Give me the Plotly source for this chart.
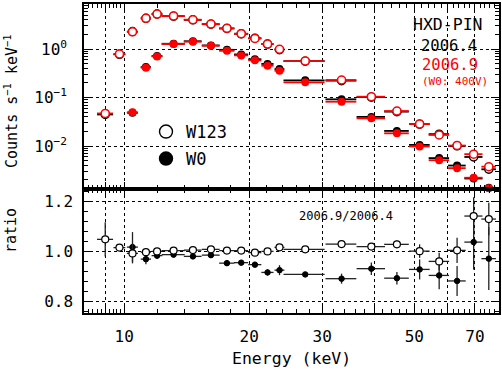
import plotly.graph_objects as go

# ---------------- data ----------------
energy = [9.0, 9.74, 10.47, 11.28, 12.0, 13.15, 14.64, 16.18, 17.68, 19.14, 20.65, 22.15,
          23.67, 27.3, 33.4, 39.4, 45.4, 51.5, 57.4, 63.4, 69.5, 75.6]
energy_err = [0.4, 0.32, 0.32, 0.32, 0.36, 0.84, 0.72, 0.8, 0.75, 0.75, 0.75, 0.75,
              0.65, 3.1, 2.85, 3.1, 3.1, 2.95, 3.25, 3.1, 3.5, 3.05]

# count rates (counts s^-1 keV^-1)
w123_2006_4 = [0.0448, 0.778, 2.29, 4.31, 5.26, 4.77, 4.00, 3.25, 2.66, 2.06, 1.67, 1.27,
               0.973, 0.561, 0.223, 0.102, 0.0512, 0.0283, 0.0176, 0.0101, 0.00595, 0.00332]
w0_2006_4 = [None, None, 0.0486, 0.425, 0.717, 1.285, 1.448, 1.187, 0.964, 0.774, 0.617, 0.494,
             0.386, 0.227, 0.092, 0.0399, 0.0205, 0.01055, 0.00564, 0.00396, 0.00214, 0.00138]
w123_2006_9 = [0.047, 0.79, 2.27, 4.3, 5.27, 4.79, 4.02, 3.28, 2.67, 2.07, 1.66, 1.27,
               0.99, 0.566, 0.23, 0.104, 0.0527, 0.0284, 0.0169, 0.0102, 0.0068, 0.00375]
w0_2006_9 = [None, None, 0.0495, 0.412, 0.706, 1.27, 1.42, 1.17, 0.92, 0.74, 0.585, 0.453,
             0.357, 0.206, 0.082, 0.0372, 0.0183, 0.0098, 0.0051, 0.0035, 0.00222, 0.00134]

# ratio 2006.9 / 2006.4
ratio_w123 = [1.049, 1.016, 0.993, 0.998, 1.001, 1.004, 1.006, 1.009, 1.004, 1.004, 0.996, 1.001,
              1.017, 1.009, 1.030, 1.020, 1.029, 1.002, 0.961, 1.005, 1.142, 1.130]
ratio_w123_err = [0.068, 0.012, 0.04, 0.01, 0.008, 0.008, 0.008, 0.008, 0.008, 0.008, 0.008, 0.008,
                  0.01, 0.008, 0.01, 0.012, 0.015, 0.027, 0.035, 0.05, 0.075, 0.065]
ratio_w0 = [None, None, 1.018, 0.970, 0.984, 0.988, 0.981, 0.986, 0.954, 0.956, 0.948, 0.917,
            0.926, 0.909, 0.892, 0.932, 0.894, 0.929, 0.905, 0.883, 1.038, 0.972]
ratio_w0_err = [None, None, 0.06, 0.02, 0.012, 0.01, 0.01, 0.01, 0.01, 0.01, 0.01, 0.012,
                0.02, 0.01, 0.02, 0.025, 0.025, 0.04, 0.055, 0.06, 0.11, 0.125]

x_grid_ticks = [9, 10, 20, 30, 40, 50, 60, 70]
x_tick_text = ["", "10", "20", "30", "", "50", "", "70"]
x_minor_ticks = [8.2, 8.4, 8.6, 8.8, 9.2, 9.4, 9.6, 9.8] + \
    [v for v in range(12, 80, 2) if v % 10 != 0]
y_top_ticks = [0.01, 0.1, 1]
y_top_text = ["10<sup>−2</sup>", "10<sup>−1</sup>", "10<sup>0</sup>"]
y_top_minor = [m * 10 ** e for e in (-3, -2, -1, 0) for m in range(2, 10)]
y_bot_ticks = [0.8, 1.0, 1.2]
y_bot_text = ["0.8", "1.0", "1.2"]
y_bot_minor = [0.76, 0.84, 0.88, 0.92, 0.96, 1.04, 1.08, 1.12, 1.16, 1.24]

RED = "#ff0000"
BLACK = "#000000"
MONO = "DejaVu Sans Mono"

fig = go.Figure()


def spec_trace(y, color, filled, size):
    return go.Scatter(
        x=energy, y=y, mode="markers", showlegend=False,
        error_x=dict(type="data", array=energy_err, color=color, thickness=1.8, width=0),
        marker=dict(symbol="circle", size=size,
                    color=color if filled else "white",
                    line=dict(color=color, width=1.5)),
        xaxis="x", yaxis="y", cliponaxis=False,
    )


fig.add_trace(spec_trace(w123_2006_4, BLACK, False, 8))
fig.add_trace(spec_trace(w0_2006_4, BLACK, True, 6.5))
fig.add_trace(spec_trace(w123_2006_9, RED, False, 8))
fig.add_trace(spec_trace(w0_2006_9, RED, True, 6.5))

fig.add_trace(go.Scatter(
    x=energy, y=ratio_w0, mode="markers", showlegend=False,
    error_x=dict(type="data", array=energy_err, color="#222", thickness=1.3, width=0),
    error_y=dict(type="data", array=ratio_w0_err, color="#222", thickness=1.3, width=0),
    marker=dict(symbol="circle", size=5.5, color=BLACK, line=dict(color=BLACK, width=1)),
    xaxis="x2", yaxis="y2"))
fig.add_trace(go.Scatter(
    x=energy, y=ratio_w123, mode="markers", showlegend=False,
    error_x=dict(type="data", array=energy_err, color="#222", thickness=1.3, width=0),
    error_y=dict(type="data", array=ratio_w123_err, color="#222", thickness=1.3, width=0),
    marker=dict(symbol="circle", size=7, color="white", line=dict(color=BLACK, width=1.2)),
    xaxis="x2", yaxis="y2"))

# legend entries
fig.add_trace(go.Scatter(x=[None], y=[None], mode="markers", name="W123", legend="legend",
                         marker=dict(symbol="circle", size=13, color="white",
                                     line=dict(color=BLACK, width=1.4))))
fig.add_trace(go.Scatter(x=[None], y=[None], mode="markers", name="W0", legend="legend2",
                         marker=dict(symbol="circle", size=13, color=BLACK,
                                     line=dict(color=BLACK, width=1.4))))

XL, XR = 84 / 502, 499 / 502
Y_TOP0, Y_TOP1 = 1 - 189 / 370, 1 - 4 / 370
Y_BOT0 = 1 - 313 / 370

axis_common = dict(showline=True, linecolor=BLACK, linewidth=1.5, mirror="allticks",
                   ticks="inside", tickcolor=BLACK, tickwidth=1.2,
                   showgrid=True, gridcolor=BLACK, griddash="dot", gridwidth=1,
                   zeroline=False, tickfont=dict(family=MONO, size=16, color=BLACK))

xr = [0.90309, 1.90309]
fig.update_layout(
    width=502, height=370, margin=dict(l=0, r=0, t=0, b=0),
    paper_bgcolor="white", plot_bgcolor="white",
    xaxis=dict(type="log", range=xr, domain=[XL, XR], anchor="y",
               tickmode="array", tickvals=x_grid_ticks, ticktext=x_tick_text, ticklen=7,
               showticklabels=False,
               minor=dict(tickvals=x_minor_ticks, ticklen=4, ticks="inside",
                          tickcolor=BLACK, showgrid=False),
               **axis_common),
    yaxis=dict(type="log", range=[-2.886, 0.929], domain=[Y_TOP0, Y_TOP1], anchor="x",
               tickmode="array", tickvals=y_top_ticks, ticktext=y_top_text, ticklen=8,
               ticklabelstandoff=12,
               minor=dict(tickvals=y_top_minor, ticklen=4, ticks="inside",
                          tickcolor=BLACK, showgrid=False),
               **axis_common),
    xaxis2=dict(type="log", range=xr, domain=[XL, XR], anchor="y2",
                tickmode="array", tickvals=x_grid_ticks, ticktext=x_tick_text, ticklen=7,
                ticklabelstandoff=8,
                minor=dict(tickvals=x_minor_ticks, ticklen=4, ticks="inside",
                           tickcolor=BLACK, showgrid=False),
                **axis_common),
    yaxis2=dict(range=[0.755, 1.25], domain=[Y_BOT0, Y_TOP0], anchor="x2",
                tickmode="array", tickvals=y_bot_ticks, ticktext=y_bot_text, ticklen=8,
                ticklabelstandoff=6,
                minor=dict(tickvals=y_bot_minor, ticklen=4, ticks="inside",
                           tickcolor=BLACK, showgrid=False),
                **axis_common),
    legend=dict(x=146 / 502, y=1 - 114 / 370, xanchor="left", yanchor="top",
                bgcolor="rgba(0,0,0,0)", borderwidth=0, itemsizing="trace",
                font=dict(family=MONO, size=17, color=BLACK)),
    legend2=dict(x=146 / 502, y=1 - 141 / 370, xanchor="left", yanchor="top",
                 bgcolor="rgba(0,0,0,0)", borderwidth=0, itemsizing="trace",
                 font=dict(family=MONO, size=17, color=BLACK)),
)

ann = [
    dict(text="HXD-PIN", x=448 / 502, y=1 - 25 / 370, size=16.5, color=BLACK),
    dict(text="2006.4", x=449 / 502, y=1 - 46.5 / 370, size=15.5, color=BLACK),
    dict(text="2006.9", x=449.5 / 502, y=1 - 64.5 / 370, size=15.5, color=RED),
    dict(text="(W0: 400V)", x=454.5 / 502, y=1 - 81 / 370, size=11, color=RED),
    dict(text="2006.9/2006.4", x=346 / 502, y=1 - 216 / 370, size=12, color=BLACK),
    dict(text="Energy (keV)", x=291 / 502, y=1 - 358 / 370, size=16.5, color=BLACK),
]
for a in ann:
    fig.add_annotation(text=a["text"], x=a["x"], y=a["y"], xref="paper", yref="paper",
                       xanchor="center", yanchor="middle", showarrow=False,
                       font=dict(family=MONO, size=a["size"], color=a["color"]))

for txt, yc in [("Counts s<sup>−1</sup> keV<sup>−1</sup>", 101), ("ratio", 231)]:
    fig.add_annotation(text=txt, x=11 / 502, y=1 - yc / 370, xref="paper", yref="paper",
                       xanchor="center", yanchor="middle", showarrow=False, textangle=-90,
                       font=dict(family=MONO, size=15, color=BLACK))

fig.write_html("out.html", config={"displayModeBar": False},
               post_script="document.body.style.margin='0';document.body.style.overflow='hidden';")
